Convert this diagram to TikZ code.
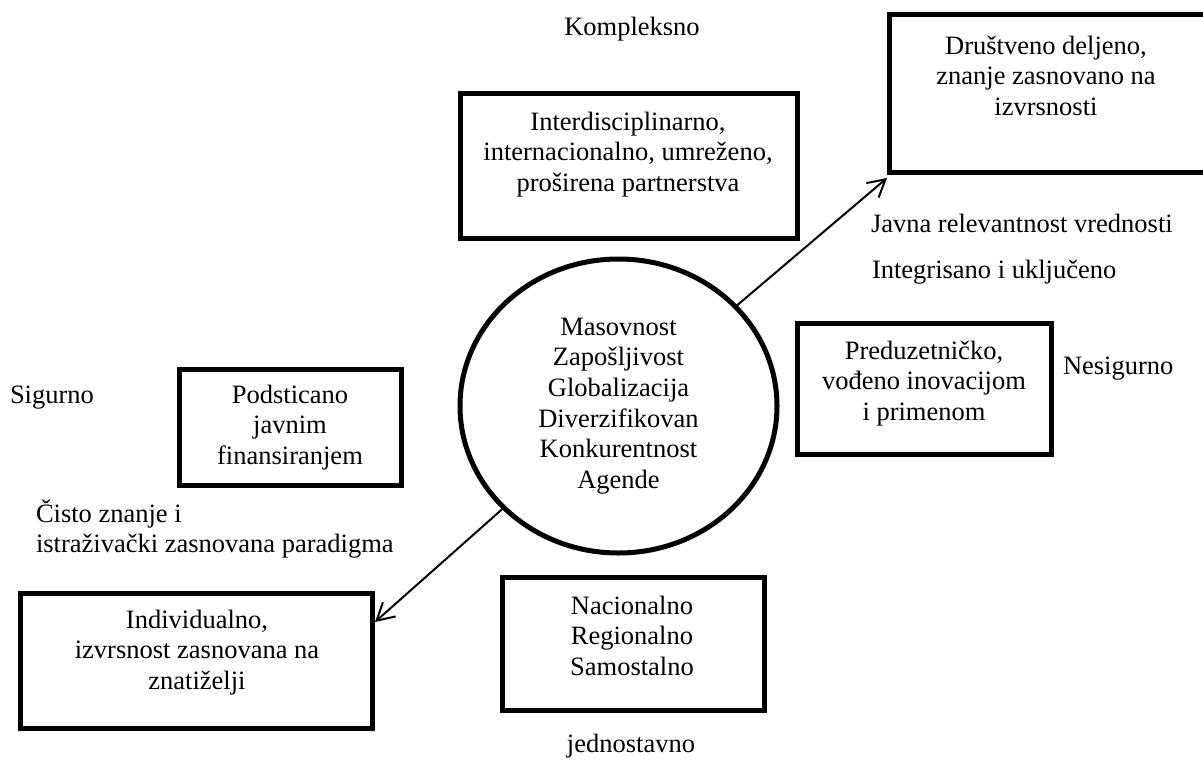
\documentclass[tikz,border=0pt]{standalone}
\usepackage{fontspec}
\setmainfont{Liberation Serif}
\usetikzlibrary{arrows.meta,shapes.geometric}
\begin{document}
\begin{tikzpicture}[x=1pt,y=-1pt,
  every node/.style={font=\fontsize{26.5}{30.6}\selectfont, inner sep=0pt, outer sep=0pt},
  frame/.style={draw, rectangle, line width=5pt},
  txt/.style={anchor=base, align=center},
  lbl/.style={anchor=base west, align=left},
  conn/.style={line width=2pt, -{Straight Barb[length=17pt,width=19pt]}}]
\useasboundingbox (0,0) rectangle (1203,777);
\clip (0,0) rectangle (1203,777);

% central ellipse with its keywords
\node[ellipse, draw, line width=5pt, minimum width=317pt, minimum height=294pt, align=center]
  (circ) at (618.5,406) {Masovnost\\Zapošljivost\\Globalizacija\\Diverzifikovan\\Konkurentnost\\Agende};

% framed boxes; multi-line texts are placed by the baseline of their last line
\node[frame, minimum width=319pt, minimum height=158pt] (dbox) at (1048.5,93) {};
\node[txt] (dtext) at (1046,115.2) {Društveno deljeno,\\znanje zasnovano na\\izvrsnosti};

\node[frame, minimum width=337pt, minimum height=145pt] (ibox) at (628.5,165.5) {};
\node[txt] (itext) at (628,191.2) {Interdisciplinarno,\\internacionalno, umreženo,\\proširena partnerstva};

\node[frame, minimum width=254pt, minimum height=131pt] (pbox) at (924,388.5) {};
\node[txt] (ptext) at (924,420.2) {Preduzetničko,\\vođeno inovacijom\\i primenom};

\node[frame, minimum width=222pt, minimum height=116pt] (sbox) at (290,427) {};
\node[txt] (stext) at (290,464.2) {Podsticano\\javnim\\finansiranjem};

\node[frame, minimum width=352pt, minimum height=135pt] (indbox) at (196,660.5) {};
\node[txt] (indtext) at (197,689.2) {Individualno,\\izvrsnost zasnovana na\\znatiželji};

\node[frame, minimum width=262pt, minimum height=133pt] (nbox) at (633,643.5) {};
\node[txt] (ntext) at (632,675.2) {Nacionalno\\Regionalno\\Samostalno};

% axis labels and free texts
\node[txt] (komp) at (632,35) {Kompleksno};
\node[txt] (jedn) at (631,752) {jednostavno};
\node[lbl] (javna) at (871,232) {Javna relevantnost vrednosti};
\node[lbl] (integ) at (872,278) {Integrisano i uključeno};
\node[lbl] (nesig) at (1063,374) {Nesigurno};
\node[lbl] (sig) at (10,403) {Sigurno};
\node[lbl] (cisto) at (36,552.6) {Čisto znanje i\\istraživački zasnovana paradigma};

% arrows from the ellipse
\coordinate (tip1) at ([xshift=-2pt,yshift=-6pt]dbox.south west);
\coordinate (tip2) at ([xshift=3pt,yshift=-29pt]indbox.north east);
\draw[conn] (circ) -- (tip1);
\draw[conn] (circ) -- (tip2);
\end{tikzpicture}
\end{document}
